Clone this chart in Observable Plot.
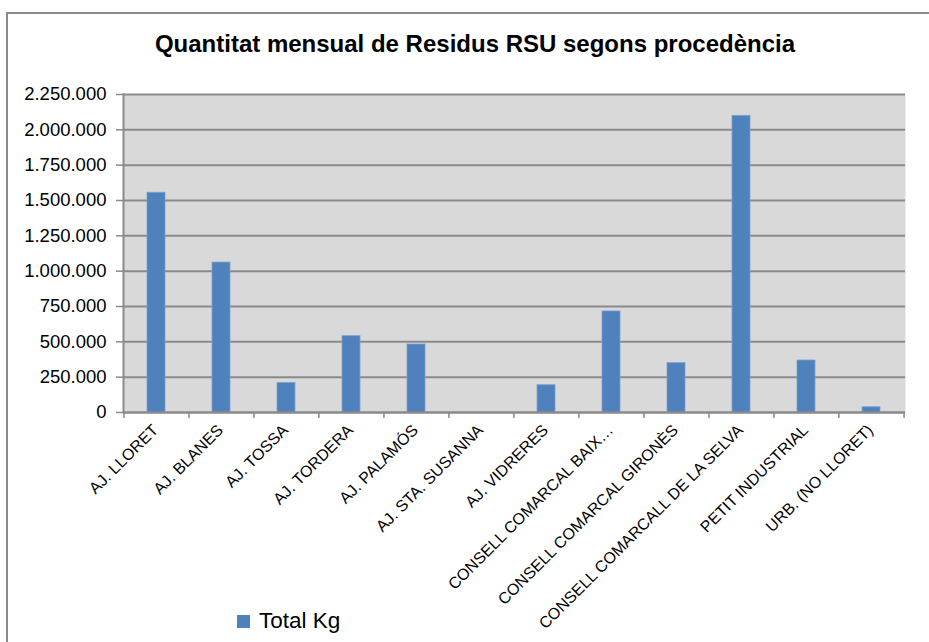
<!DOCTYPE html>
<html>
<head>
<meta charset="utf-8">
<script src="https://cdn.jsdelivr.net/npm/d3@7"></script>
<script src="https://cdn.jsdelivr.net/npm/@observablehq/plot@0.6"></script>
<style>
  html, body { margin: 0; padding: 0; background: #fff; width: 929px; height: 642px; overflow: hidden; }
  body { font-family: "Liberation Sans", Arial, sans-serif; position: relative; }
  #border { position: absolute; left: 6px; top: 12px; width: 1000px; height: 700px; border-left: 2px solid #8a8a8a; border-top: 2px solid #8a8a8a; box-sizing: border-box; }
  #title { position: absolute; left: 0; width: 950px; top: 30px; text-align: center; font-weight: bold; font-size: 24px; color: #000; white-space: nowrap; }
  #chart { position: absolute; left: 0; top: 80px; }
  #legend { position: absolute; left: 237px; top: 608px; display: flex; align-items: center; font-size: 22.5px; color: #000; }
  #legend .sw { width: 13px; height: 13px; background: #4f81bd; margin-right: 9px; }
</style>
</head>
<body>
<div id="border"></div>
<div id="title">Quantitat mensual de Residus RSU segons procedència</div>
<div id="chart"></div>
<div id="legend"><div class="sw"></div><span>Total Kg</span></div>
<script>
const categories = [
  "AJ. LLORET",
  "AJ. BLANES",
  "AJ. TOSSA",
  "AJ. TORDERA",
  "AJ. PALAMÓS",
  "AJ. STA. SUSANNA",
  "AJ. VIDRERES",
  "CONSELL COMARCAL BAIX…",
  "CONSELL COMARCAL GIRONÈS",
  "CONSELL COMARCALL DE LA SELVA",
  "PETIT INDUSTRIAL",
  "URB. (NO LLORET)"
];
const totalKg = [1555000, 1061000, 209000, 540000, 481000, 0, 193000, 715000, 349000, 2099000, 368000, 37000];
const yTicks = [0, 250000, 500000, 750000, 1000000, 1250000, 1500000, 1750000, 2000000, 2250000];
const seriesName = "Total Kg";

const data = categories.map((c, i) => ({category: c, value: totalKg[i]}));
const fmt = d3.formatLocale({decimal: ",", thousands: ".", grouping: [3], currency: ["", "€"]}).format(",d");

const width = 929, height = 562;
const mLeft = 123, mRight = 24, mTop = 14, mBottom = 230;
const step = (width - mLeft - mRight) / categories.length;
const grey = "#8a8a8a";

const chart = Plot.plot({
  width, height,
  marginLeft: mLeft, marginRight: mRight, marginTop: mTop, marginBottom: mBottom,
  style: {fontFamily: "Liberation Sans, Arial, sans-serif", background: "transparent", color: "#000", overflow: "visible"},
  x: {domain: categories, paddingInner: 0.72, paddingOuter: 0.36, label: null},
  y: {domain: [0, 2250000], label: null},
  marks: [
    Plot.frame({fill: "#d9d9d9", stroke: null}),
    Plot.ruleY(yTicks, {stroke: grey, strokeWidth: 2}),
    Plot.barY(data, {x: "category", y: "value", fill: "#4f81bd", stroke: "#7ea1cf", strokeWidth: 0.8}),
    Plot.frame({anchor: "left", stroke: grey, strokeWidth: 2}),
    Plot.ruleY([0], {stroke: grey, strokeWidth: 2}),
    Plot.ruleX(categories, {x: d => d, y1: 0, y2: 0, insetBottom: -6, dx: -step / 2, stroke: grey, strokeWidth: 1.5}),
    Plot.ruleX(categories.slice(-1), {x: d => d, y1: 0, y2: 0, insetBottom: -6, dx: step / 2, stroke: grey, strokeWidth: 1.5}),
    Plot.axisY({ticks: yTicks, tickFormat: fmt, tickSize: 7, tickPadding: 10, stroke: grey, strokeWidth: 1.5, fontSize: 18.5, label: null}),
    Plot.axisX({tickSize: 0, tickRotate: -45, tickPadding: 15, fontSize: 16, label: null, dx: -1})
  ]
});
document.getElementById("chart").appendChild(chart);
</script>
</body>
</html>
